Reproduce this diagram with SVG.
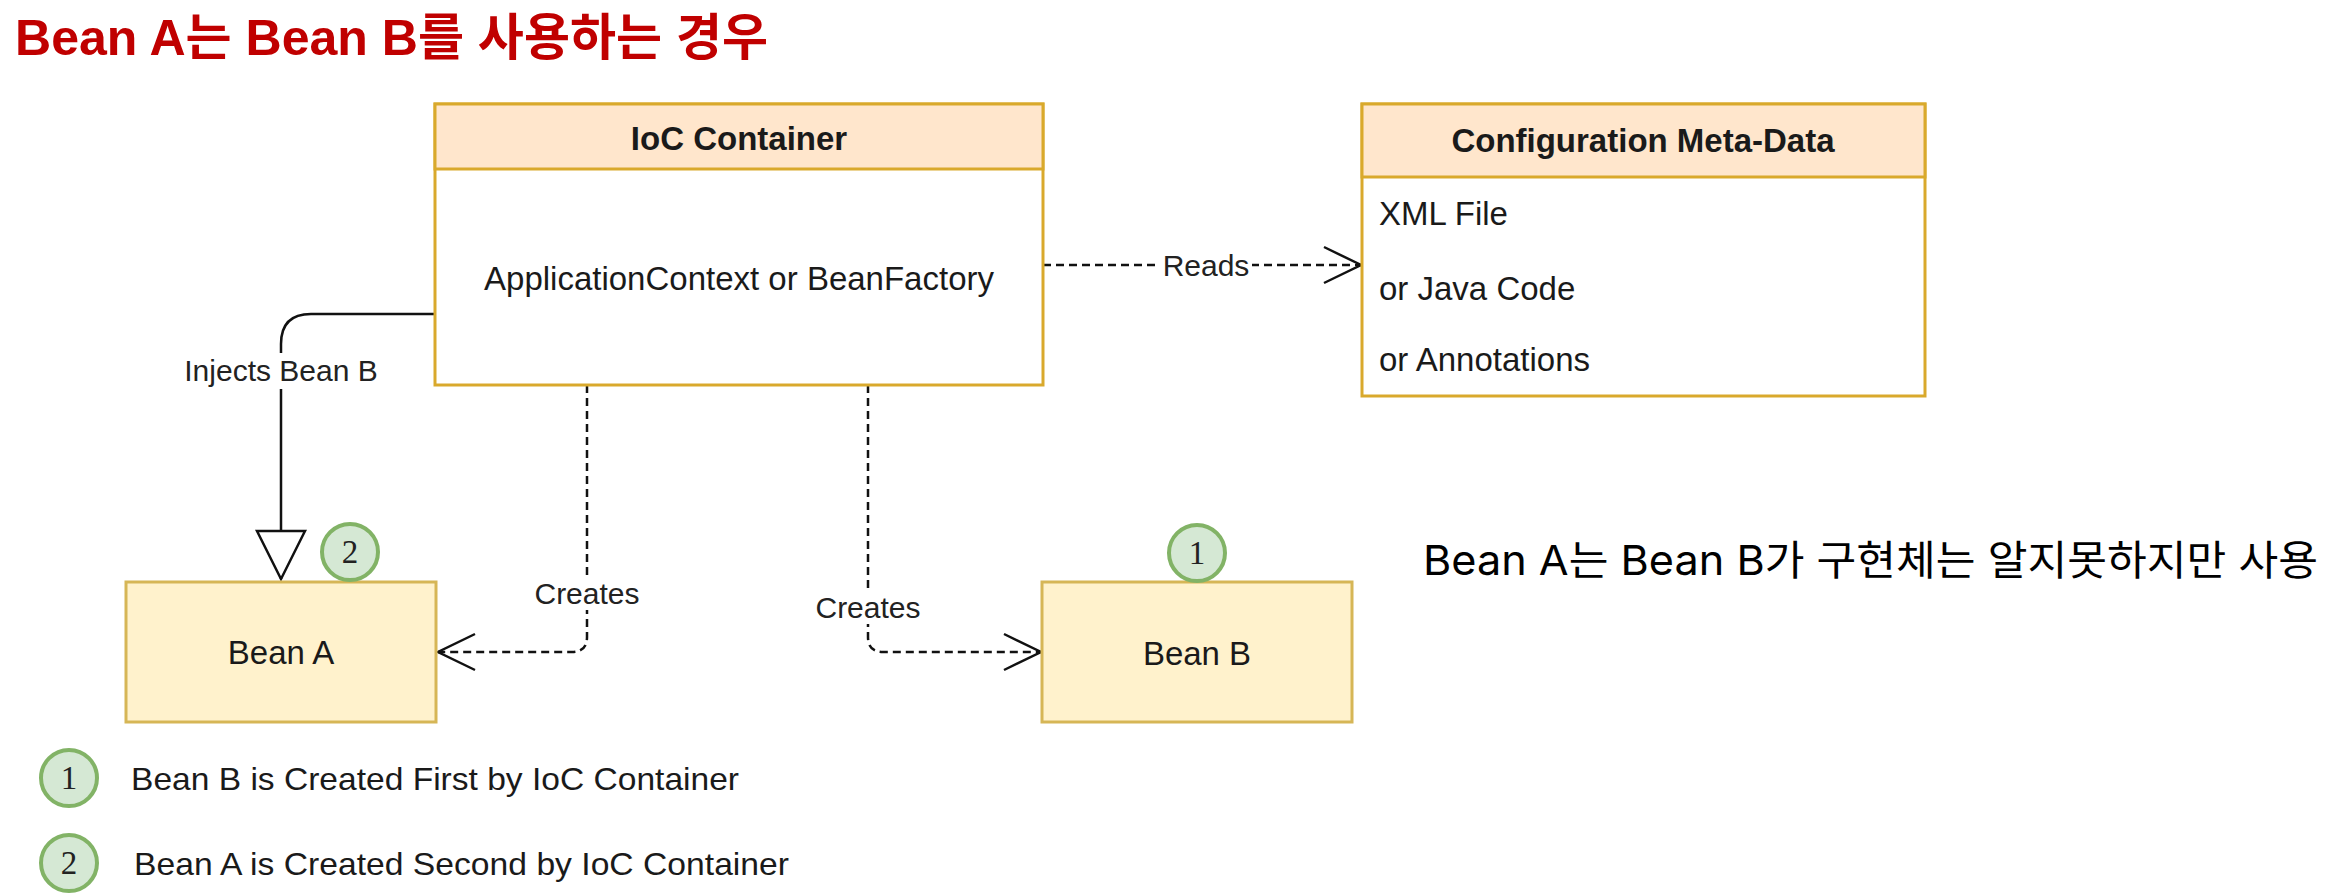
<svg xmlns="http://www.w3.org/2000/svg" width="2332" height="896" viewBox="0 0 2332 896">
<style>
  .t { font-family: "Liberation Sans", Arial, sans-serif; fill: #1a1a1a; }
  .box { font-size: 33px; }
  .hdr { font-size: 33px; font-weight: bold; }
  .lbl { font-size: 30px; fill: #222; }
  .leg { font-size: 32px; }
  .num { font-family: "Liberation Serif", "Times New Roman", serif; font-size: 33px; fill: #222; }
  .cont { stroke: #d9a92c; stroke-width: 3; }
  .bean { fill: #fff2cc; stroke: #d6b656; stroke-width: 3; }
  .badge { fill: #d5e8d4; stroke: #82b366; stroke-width: 4; }
  .solid { fill: none; stroke: #111; stroke-width: 2.5; }
  .dash { fill: none; stroke: #111; stroke-width: 2.5; stroke-dasharray: 8 5; }
  .lblbg { fill: #ffffff; }
</style>
<defs>
  <marker id="open" markerUnits="userSpaceOnUse" viewBox="-42 -22 44 44" refX="0" refY="0" markerWidth="44" markerHeight="44" orient="auto" overflow="visible">
    <path d="M-37,-18 L0,0 L-37,18" fill="none" stroke="#111" stroke-width="2.5"/>
  </marker>
  <marker id="tri" markerUnits="userSpaceOnUse" viewBox="-52 -26 54 52" refX="0" refY="0" markerWidth="54" markerHeight="52" orient="auto" overflow="visible">
    <path d="M-48,-24 L0,0 L-48,24 Z" fill="#fff" stroke="#111" stroke-width="2.5"/>
  </marker>
</defs>
<rect width="2332" height="896" fill="#ffffff"/>

<text x="15" y="55" font-family="'Liberation Sans', 'Noto Sans CJK KR', sans-serif" font-weight="bold" font-size="50" fill="#c00000" textLength="753" lengthAdjust="spacingAndGlyphs">Bean A는 Bean B를 사용하는 경우</text>

<g id="connectors">
  <path class="solid" d="M435,314 H311 Q281,314 281,344 V579" marker-end="url(#tri)"/>
  <path class="dash" d="M1043,265 H1361" marker-end="url(#open)"/>
  <path class="dash" d="M587,385 V637 Q587,652 572,652 H438" marker-end="url(#open)"/>
  <path class="dash" d="M868,385 V637 Q868,652 883,652 H1041" marker-end="url(#open)"/>
  <rect class="lblbg" x="178" y="353" width="206" height="36"/>
  <text class="t lbl" x="281" y="381" text-anchor="middle">Injects Bean B</text>
  <rect class="lblbg" x="1160" y="250" width="92" height="32"/>
  <text class="t lbl" x="1206" y="276" text-anchor="middle">Reads</text>
  <rect class="lblbg" x="533" y="576" width="108" height="34"/>
  <text class="t lbl" x="587" y="604" text-anchor="middle">Creates</text>
  <rect class="lblbg" x="814" y="590" width="108" height="34"/>
  <text class="t lbl" x="868" y="618" text-anchor="middle">Creates</text>
</g>

<g id="ioc-container">
  <rect class="cont" x="435" y="104" width="608" height="281" fill="#ffffff"/>
  <rect class="cont" x="435" y="104" width="608" height="65" fill="#ffe6cc"/>
  <text class="t hdr" x="739" y="150" text-anchor="middle">IoC Container</text>
  <text class="t box" x="739" y="290" text-anchor="middle">ApplicationContext or BeanFactory</text>
</g>

<g id="config-metadata">
  <rect class="cont" x="1362" y="104" width="563" height="292" fill="#ffffff"/>
  <rect class="cont" x="1362" y="104" width="563" height="73" fill="#ffe6cc"/>
  <text class="t hdr" x="1643" y="152" text-anchor="middle">Configuration Meta-Data</text>
  <text class="t box" x="1379" y="225">XML File</text>
  <text class="t box" x="1379" y="300">or Java Code</text>
  <text class="t box" x="1379" y="371">or Annotations</text>
</g>

<g id="bean-a">
  <rect class="bean" x="126" y="582" width="310" height="140"/>
  <text class="t box" x="281" y="664" text-anchor="middle">Bean A</text>
</g>

<g id="bean-b">
  <rect class="bean" x="1042" y="582" width="310" height="140"/>
  <text class="t box" x="1197" y="665" text-anchor="middle">Bean B</text>
</g>

<g id="badge-2">
  <circle class="badge" cx="350" cy="552" r="28"/>
  <text class="num" x="350" y="563" text-anchor="middle">2</text>
</g>

<g id="badge-1">
  <circle class="badge" cx="1197" cy="553" r="28"/>
  <text class="num" x="1197" y="564" text-anchor="middle">1</text>
</g>

<g id="legend">
  <circle class="badge" cx="69" cy="778" r="28"/>
  <text class="num" x="69" y="789" text-anchor="middle">1</text>
  <text class="t leg" x="131" y="790" textLength="608" lengthAdjust="spacingAndGlyphs">Bean B is Created First by IoC Container</text>
  <circle class="badge" cx="69" cy="863" r="28"/>
  <text class="num" x="69" y="874" text-anchor="middle">2</text>
  <text class="t leg" x="134" y="875" textLength="655" lengthAdjust="spacingAndGlyphs">Bean A is Created Second by IoC Container</text>
</g>

<g id="note">
  <text x="1423" y="575" font-family="Inter, 'Noto Sans CJK KR', sans-serif" font-size="41" fill="#000000" textLength="895" lengthAdjust="spacingAndGlyphs">Bean A는 Bean B가 구현체는 알지못하지만 사용</text>
</g>
</svg>
